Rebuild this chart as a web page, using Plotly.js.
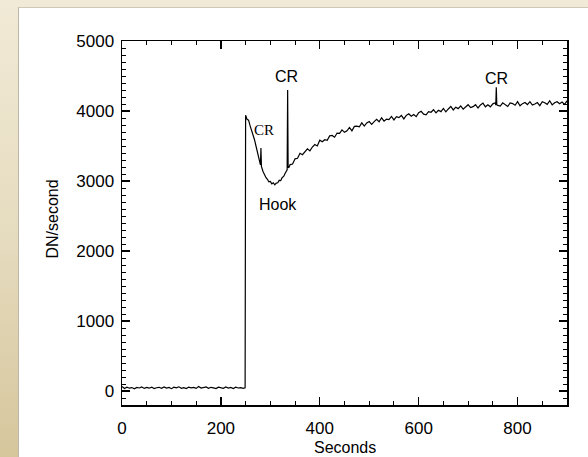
<!DOCTYPE html>
<html>
<head>
<meta charset="utf-8">
<script src="https://cdn.plot.ly/plotly-3.0.1.min.js"></script>
<style>
html,body{margin:0;padding:0;width:588px;height:457px;overflow:hidden;}
body{background:linear-gradient(to bottom,#f1ead6 0%,#e6dcc0 50%,#d6c69c 100%);position:relative;}
#panel{position:absolute;left:18px;top:7px;width:570px;height:450px;background:#fff;border-left:1px solid #bdb6a6;border-top:1px solid #cfc8b8;}
#chart{position:absolute;left:0;top:0;width:588px;height:457px;}
</style>
</head>
<body>
<div id="panel"></div>
<div id="chart"></div>
<script>
// Seconds
const seconds = [
0,5,10,15,20,25,30,35,40,45,50,55,60,65,70,75,80,85,90,95,
100,105,110,115,120,125,130,135,140,145,150,155,160,165,170,175,180,185,190,195,
200,205,210,215,220,225,230,235,240,245,249,
250,253,256,259,262,265,268,271,274,277,280,281,282,285,288,291,294,297,300,303,306,309,312,315,318,321,324,327,330,333,334,335,336,338,
340,345,350,355,360,365,370,375,380,385,390,395,400,405,410,415,420,425,430,435,
440,445,450,455,460,465,470,475,480,485,490,495,500,505,510,515,520,525,530,535,
540,545,550,555,560,565,570,575,580,585,590,595,600,605,610,615,620,625,630,635,
640,645,650,655,660,665,670,675,680,685,690,695,700,705,710,715,720,725,730,735,
740,745,750,755,756,757,758,760,765,770,775,780,785,790,795,800,805,810,815,820,
825,830,835,840,845,850,855,860,865,870,875,880,885,890,895,900
];
// DN/second
const dnPerSecond = [
64,36,55,40,49,31,52,43,58,37,50,40,56,34,47,53,38,57,42,51,
33,54,45,60,39,48,35,56,44,52,37,63,41,49,59,38,53,45,34,55,
47,39,57,42,50,36,54,43,48,38,45,
3940,3880,3870,3790,3730,3650,3590,3500,3420,3330,3230,3470,3210,3140,3085,3050,3025,2990,2995,2960,2975,2945,2970,2975,3010,3005,3050,3065,3110,3145,3160,4300,3190,3200,
3235,3242,3317,3325,3395,3375,3415,3460,3430,3485,3520,3500,3583,3560,3590,3580,3645,3650,3625,3685,
3680,3730,3695,3718,3765,3717,3780,3783,3775,3830,3785,3830,3850,3810,3848,3881,3847,3903,3855,3885,
3876,3922,3873,3919,3905,3936,3887,3938,3959,3925,3949,3920,3975,3995,3955,3945,3991,3982,4018,3974,
4010,3991,4037,3988,4029,4065,4015,4055,4034,4073,4027,4061,4090,4049,4062,4090,4043,4086,4113,4060,
4088,4060,4102,4118,4085,4340,4090,4080,4071,4117,4093,4064,4115,4106,4082,4133,4074,4105,4121,4092,
4133,4084,4100,4121,4077,4133,4119,4095,4146,4087,4118,4133,4104,4129,4095,4145
];
// Annotation labels
const labelText = ["CR","CR","Hook","CR"];
const labelX = [287, 333, 315, 757];
const labelY = [3729, 4486, 2671, 4471];
const labelFont = ["Liberation Serif, Times New Roman, serif","Liberation Sans, Arial, sans-serif","Liberation Sans, Arial, sans-serif","Liberation Sans, Arial, sans-serif"];
const labelSize = [15,16,16,16];

const xTitle = "Seconds";
const yTitle = "DN/second";

const sans = "Liberation Sans, Arial, Helvetica, sans-serif";

const trace = {
  x: seconds, y: dnPerSecond, type: "scatter", mode: "lines",
  line: {color: "#000", width: 1.2}, hoverinfo: "skip"
};

const anns = labelText.map((t,i)=>({
  text: t, x: labelX[i], y: labelY[i], xref: "x", yref: "y",
  showarrow: false, font: {family: labelFont[i], size: labelSize[i], color: "#000"}
}));
anns.push({text: xTitle, xref: "paper", yref: "paper", x: 0.5, y: -0.116, yanchor: "middle",
  showarrow: false, font: {family: sans, size: 16, color: "#000"}});
anns.push({text: yTitle, xref: "paper", yref: "paper", x: -0.157, y: 0.51, xanchor: "center",
  textangle: -90, showarrow: false, font: {family: sans, size: 16, color: "#000"}});

const axisCommon = {
  showline: true, linecolor: "#000", linewidth: 1.5, mirror: "allticks",
  ticks: "inside", ticklen: 8, tickwidth: 1.3, tickcolor: "#000",
  showgrid: false, zeroline: false,
  tickfont: {family: sans, size: 17, color: "#000"}
};

const layout = {
  width: 588, height: 457,
  margin: {l: 122, r: 21, t: 41, b: 52},
  paper_bgcolor: "rgba(0,0,0,0)", plot_bgcolor: "#fff",
  showlegend: false,
  xaxis: Object.assign({}, axisCommon, {
    range: [0, 900], dtick: 200, tick0: 0, ticklabelstandoff: 7,
    minor: {dtick: 50, ticks: "inside", ticklen: 4, tickwidth: 1, tickcolor: "#000"}
  }),
  yaxis: Object.assign({}, axisCommon, {
    range: [-200, 5000], dtick: 1000, tick0: 0, ticklabelstandoff: 3,
    minor: {dtick: 100, ticks: "inside", ticklen: 4, tickwidth: 1, tickcolor: "#000"}
  }),
  annotations: anns
};

Plotly.newPlot("chart", [trace], layout, {staticPlot: true, displayModeBar: false});
</script>
</body>
</html>
